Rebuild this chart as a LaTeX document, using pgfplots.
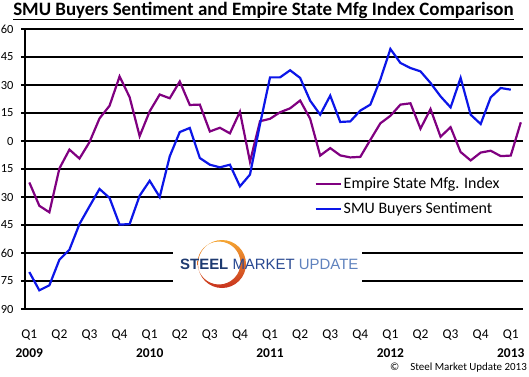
\documentclass[border=0pt]{standalone}
\usepackage{fontspec}
\setmainfont{Carlito}
\newfontfamily\logofont{Liberation Sans}
\usepackage{pgfplots}
\pgfplotsset{compat=1.18}
\definecolor{empire}{RGB}{128,0,128}
\definecolor{smu}{RGB}{12,22,232}
\definecolor{logoA}{RGB}{30,58,112}
\definecolor{logoB}{RGB}{40,72,145}
\definecolor{logoC}{RGB}{95,130,190}
\definecolor{arcTop}{RGB}{245,165,50}
\definecolor{arcBot}{RGB}{200,50,30}
\begin{document}
\begin{tikzpicture}[x=1bp,y=1bp]
\path[use as bounding box] (-25,-67) rectangle (504,309);
\begin{axis}[at={(0,0)}, anchor=south west, scale only axis,
  width=498bp, height=280bp,
  xmin=-0.43, xmax=49.22, ymin=-90, ymax=60,
  axis lines=left, axis line style={-, black, line width=1.2bp},
  ytick={-90,-75,...,60},
  yticklabels={90,75,60,45,30,15,0,15,30,45,60},
  ymajorgrids, major grid style={black, line width=1.2bp},
  ytick style={black, line width=1.2bp}, tick align=outside, major tick length=4bp,
  xtick={0,3,...,48},
  xticklabels={{Q1\\\textbf{2009}},Q2,Q3,Q4,{Q1\\\textbf{2010}},Q2,Q3,Q4,{Q1\\\textbf{2011}},Q2,Q3,Q4,{Q1\\\textbf{2012}},Q2,Q3,Q4,{Q1\\\textbf{2013}}},
  xtick style={draw=none},
  xticklabel style={align=center, anchor=north, font=\fontsize{13.5}{19}\selectfont, yshift=-13bp},
  yticklabel style={font=\fontsize{12.5}{14}\selectfont, xshift=-4bp},
  /pgf/number format/assume math mode=true,
  legend style={draw=none, fill=none, at={(rel axis cs:0.575,0.485)}, anchor=north west,
    font=\fontsize{16}{18}\selectfont, row sep=9bp},
  legend cell align=left,
  legend image code/.code={\draw[#1, line width=2.2bp] (0bp,0bp) -- (25bp,0bp);},
]
\addplot[empire, line width=2.2bp] coordinates {
(0,-22.2) (1,-34.7) (2,-38.2) (3,-14.7) (4,-4.6) (5,-9.4) (6,-0.6) (7,12.1) (8,18.9) (9,34.6) (10,23.5) (11,2.6)
(12,15.9) (13,24.9) (14,22.9) (15,31.9) (16,19.3) (17,19.5) (18,5.1) (19,7.1) (20,4.1) (21,15.7) (22,-11.1) (23,10.6)
(24,11.9) (25,15.4) (26,17.5) (27,21.7) (28,11.9) (29,-7.8) (30,-3.8) (31,-7.7) (32,-8.8) (33,-8.5) (34,0.6) (35,9.5)
(36,13.5) (37,19.5) (38,20.2) (39,6.6) (40,17.1) (41,2.3) (42,7.4) (43,-5.9) (44,-10.4) (45,-6.2) (46,-5.2) (47,-8.1)
(48,-7.8) (49,10.0)
};
\addlegendentry{Empire State Mfg. Index}
\addplot[smu, line width=2.2bp] coordinates {
(0,-70.2) (1,-80) (2,-77.3) (3,-63.6) (4,-58.2) (5,-44.5) (6,-35) (7,-25.7) (8,-30.5) (9,-44.8) (10,-44.5) (11,-29.3)
(12,-21.3) (13,-30) (14,-8.2) (15,4.8) (16,7) (17,-9.1) (18,-12.7) (19,-14.1) (20,-12.7) (21,-24.3) (22,-18) (23,9)
(24,34.1) (25,34.1) (26,37.9) (27,33.8) (28,21.6) (29,14.1) (30,24.3) (31,10.2) (32,10.5) (33,16.3) (34,19.5) (35,33)
(36,49.3) (37,41.8) (38,39.1) (39,37.3) (40,31.1) (41,23.9) (42,18) (43,33.8) (44,14.1) (45,9.1) (46,23.4) (47,28.4)
(48,27.5)
};
\addlegendentry{SMU Buyers Sentiment}
\end{axis}
% logo
\fill[white] (148,15) rectangle (337,69);
\shade[top color=arcTop, bottom color=arcBot, even odd rule] (197,45) circle (24) (194,46) circle (21.5);
\node[anchor=west, inner sep=0pt, font=\logofont\fontsize{15}{17}\selectfont] at (155,45)
  {\textcolor{logoA}{\bfseries STEEL} \textcolor{logoB}{MARKET} \textcolor{logoC}{UPDATE}};
% title
\node[font=\fontsize{19}{21}\selectfont\bfseries, inner sep=0pt] at (238.5,298)
  {\underline{SMU Buyers Sentiment and Empire State Mfg Index Comparison}};
% copyright
\node[font=\fontsize{11}{13}\selectfont, anchor=east, inner sep=0pt] at (502,-59)
  {©\quad Steel Market Update 2013};
\end{tikzpicture}
\end{document}
